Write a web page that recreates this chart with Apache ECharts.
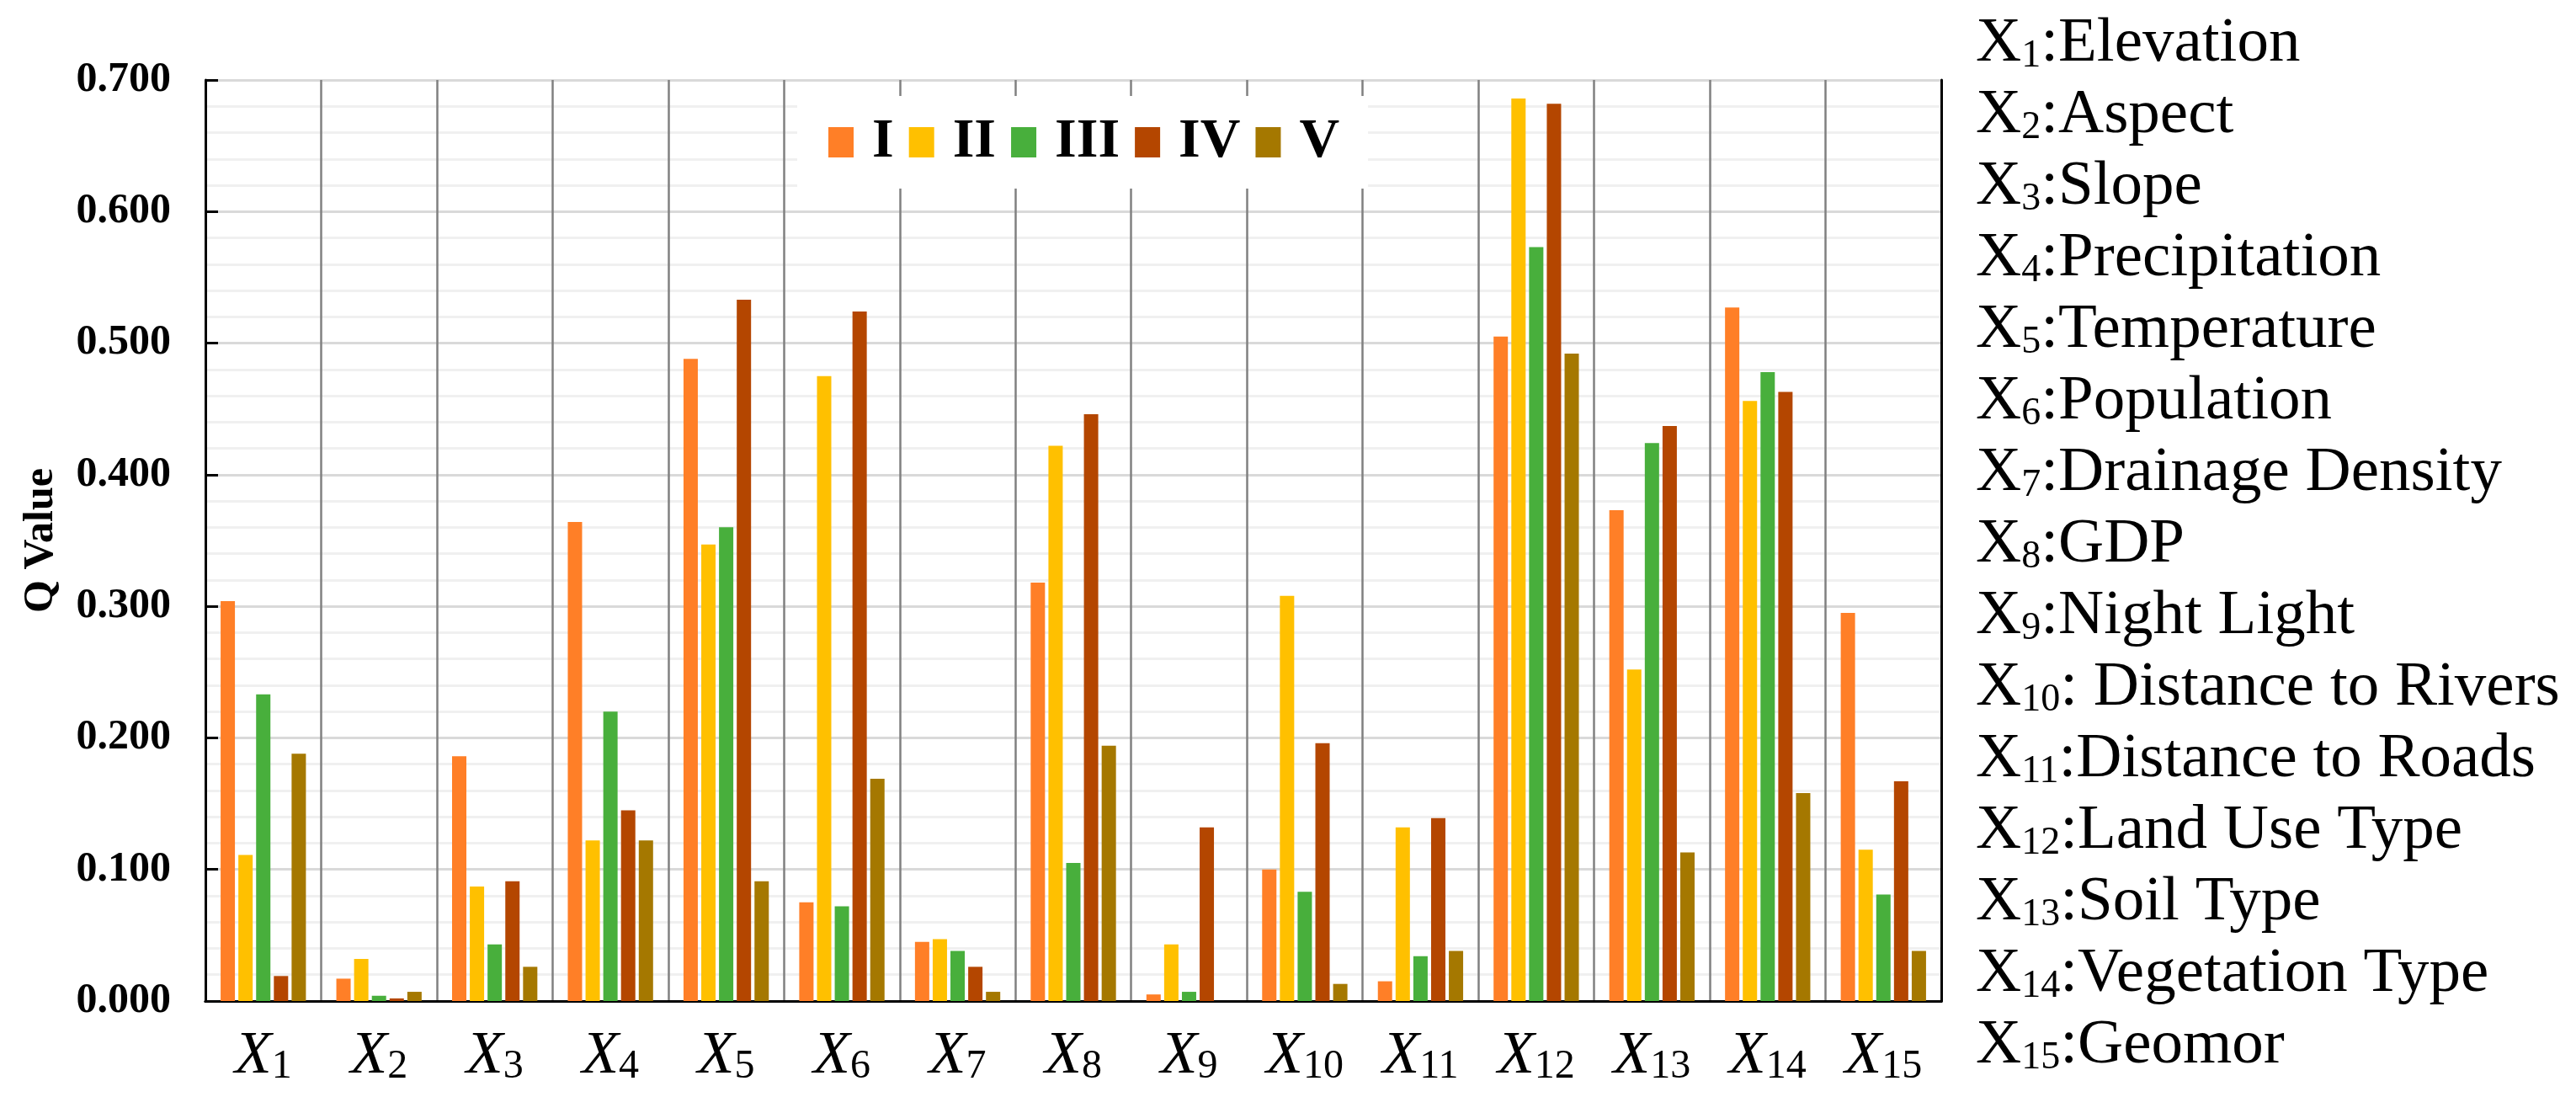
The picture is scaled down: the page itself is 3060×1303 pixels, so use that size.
<!DOCTYPE html>
<html>
<head>
<meta charset="utf-8">
<script src="https://cdn.jsdelivr.net/npm/echarts@6.0.0/dist/echarts.min.js"></script>
<style>
	html, body { margin: 0; padding: 0; background: #fff; }
	#chart { width: 3060px; height: 1303px; }
</style>
</head>
<body>
<div id="chart"></div>
<script>
//factor numbers (x axis) and names (right side list)
const factorNums  = ['1', '2', '3', '4', '5', '6', '7', '8', '9', '10', '11', '12', '13', '14', '15'];
const factorNames = ['Elevation', 'Aspect', 'Slope', 'Precipitation', 'Temperature', 'Population',
	'Drainage Density', 'GDP', 'Night Light', ' Distance to Rivers', 'Distance to Roads',
	'Land Use Type', 'Soil Type', 'Vegetation Type', 'Geomor'];

//zone names
const levels = ['I', 'II', 'III', 'IV', 'V'];

//Q values per zone
const valI   = [0.304, 0.017, 0.186, 0.364, 0.488, 0.075, 0.045, 0.318, 0.005, 0.100, 0.015, 0.505, 0.373, 0.527, 0.295];
const valII  = [0.111, 0.032, 0.087, 0.122, 0.347, 0.475, 0.047, 0.422, 0.043, 0.308, 0.132, 0.686, 0.252, 0.456, 0.115];
const valIII = [0.233, 0.004, 0.043, 0.220, 0.360, 0.072, 0.038, 0.105, 0.007, 0.083, 0.034, 0.573, 0.424, 0.478, 0.081];
const valIV  = [0.019, 0.002, 0.091, 0.145, 0.533, 0.524, 0.026, 0.446, 0.132, 0.196, 0.139, 0.682, 0.437, 0.463, 0.167];
const valV   = [0.188, 0.007, 0.026, 0.122, 0.091, 0.169, 0.007, 0.194, 0.000, 0.013, 0.038, 0.492, 0.113, 0.158, 0.038];

//y axis ticks
const yMin = 0, yMax = 0.7, yStep = 0.1;

const colors = ['#FF7F27', '#FFC000', '#48AF3C', '#B44600', '#A57800'];
const serif  = '"Liberation Serif", "Times New Roman", serif';

const chart = echarts.init(document.getElementById('chart'));

const values = [valI, valII, valIII, valIV, valV];

const series = levels.map((name, i) => ({
	name: name,
	type: 'bar',
	data: values[i],
	barWidth: 17,
	barGap: '24%',
	itemStyle: { color: colors[i] }
}));

//right side factor list
const listLeft = 2347, listTop = 50, listStep = 85;
const listText = factorNames.map((name, i) => ({
	type: 'text',
	x: listLeft,
	y: listTop + i * listStep,
	style: {
		text: `{x|X}{s|${factorNums[i]}}{t|:${name}}`,
		align: 'left',
		verticalAlign: 'middle',
		rich: {
			x: { fontFamily: serif, fontSize: 75, fill: '#000', lineHeight: 80, verticalAlign: 'bottom' },
			s: { fontFamily: serif, fontSize: 46, fill: '#000', lineHeight: 80, verticalAlign: 'bottom' },
			t: { fontFamily: serif, fontSize: 75, fill: '#000', lineHeight: 80, verticalAlign: 'bottom' }
		}
	}
}));

const option = {
	backgroundColor: '#fff',
	animation: false,
	grid: { left: 244, right: 754, top: 95, bottom: 114 },
	legend: {
		data: levels,
		left: 947,
		top: 114,
		icon: 'rect',
		itemWidth: 30,
		itemHeight: 36,
		itemGap: 18,
		padding: [22, 34, 22, 37],
		backgroundColor: '#fff',
		textStyle: { fontFamily: serif, fontWeight: 'bold', fontSize: 66, color: '#000', padding: [6, 0, 0, 17] }
	},
	xAxis: [
		{
			type: 'category',
			data: factorNums,
			axisLine: { lineStyle: { color: '#000', width: 3 } },
			axisTick: { inside: true, length: 15, lineStyle: { color: '#000', width: 3 } },
			splitLine: { show: true, lineStyle: { color: '#808080', width: 2.5 } },
			axisLabel: {
				margin: 22,
				formatter: (v) => `{x|X}{s|${v}}`,
				rich: {
					x: { fontFamily: serif, fontStyle: 'italic', fontSize: 72, color: '#000', lineHeight: 80, verticalAlign: 'bottom' },
					s: { fontFamily: serif, fontSize: 48, color: '#000', lineHeight: 80, verticalAlign: 'bottom' }
				}
			}
		},
		{
			type: 'category',
			position: 'top',
			data: factorNums,
			axisLine: { lineStyle: { color: '#000', width: 3 } },
			axisTick: { inside: true, length: 20, lineStyle: { color: '#707070', width: 2.5 } },
			axisLabel: { show: false },
			splitLine: { show: false }
		}
	],
	yAxis: [
		{
			type: 'value',
			min: yMin,
			max: yMax,
			interval: yStep,
			name: 'Q Value',
			nameLocation: 'middle',
			nameGap: 170,
			nameRotate: 90,
			nameTextStyle: { fontFamily: serif, fontWeight: 'bold', fontSize: 50, color: '#000' },
			axisLine: { show: true, lineStyle: { color: '#000', width: 3 } },
			axisTick: { show: true, inside: true, length: 15, lineStyle: { color: '#000', width: 3 } },
			axisLabel: {
				margin: 41,
				fontFamily: serif,
				fontWeight: 'bold',
				fontSize: 50,
				color: '#000',
				formatter: (v) => v.toFixed(3)
			},
			splitLine: { lineStyle: { color: '#d9d9d9', width: 3 } },
			minorTick: { show: false, splitNumber: 5 },
			minorSplitLine: { show: true, lineStyle: { color: '#f0f0f0', width: 3 } }
		},
		{
			type: 'value',
			position: 'right',
			min: yMin,
			max: yMax,
			interval: yStep,
			axisLine: { show: true, lineStyle: { color: '#000', width: 3 } },
			axisTick: { show: false },
			axisLabel: { show: false },
			splitLine: { show: false }
		}
	],
	graphic: listText,
	series: series
};

chart.setOption(option);
</script>
</body>
</html>
